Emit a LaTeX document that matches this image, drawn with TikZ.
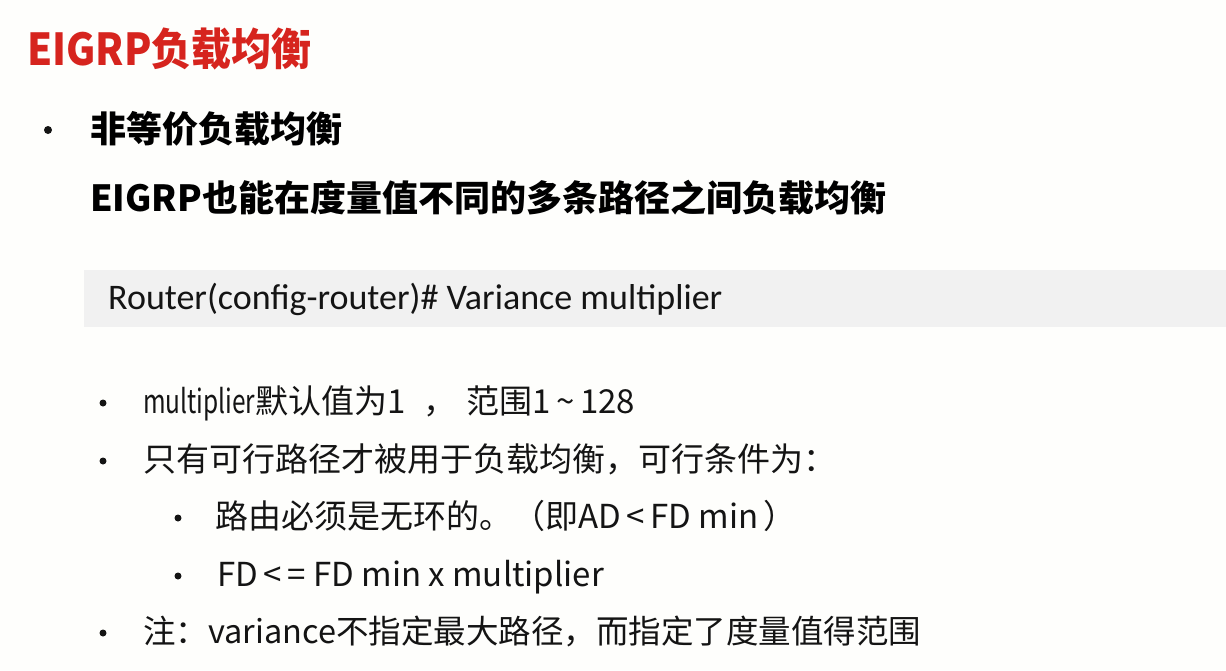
\documentclass[tikz,border=0pt]{standalone}
\usepackage{graphicx}
\usepackage{fontspec}
\setmainfont{Carlito}
\newfontfamily\cjk{Noto Sans CJK SC}
\newfontfamily\cjknarrow{Noto Sans CJK SC}[FakeStretch=0.74]
\definecolor{titlered}{RGB}{214,36,30}
\definecolor{boxgray}{RGB}{241,241,241}
\definecolor{bgwhite}{RGB}{254,254,252}
\definecolor{txt}{RGB}{20,20,20}
\tikzset{
  title/.style={anchor=base west, inner sep=0pt, text=titlered, font=\fontsize{40}{44}\selectfont\cjk\bfseries},
  head/.style={anchor=base west, inner sep=0pt, text=black, font=\fontsize{36}{40}\selectfont\cjk\bfseries},
  code/.style={anchor=base west, inner sep=0pt, text=txt, font=\fontsize{36}{40}\selectfont},
  body/.style={anchor=base west, inner sep=0pt, text=txt, font=\fontsize{33}{38}\selectfont\cjk},
  dot/.style={circle, fill=txt, inner sep=0pt, minimum size=#1},
}
\begin{document}
\begin{tikzpicture}[x=1pt,y=-1pt]
\fill[bgwhite] (0,0) rectangle (1226,670);
\useasboundingbox (0,0) rectangle (1226,670);
\fill[boxgray] (84,270) rectangle (1226,327);
\node[title] (t) at (27,65) {\scalebox{1}[1.1]{EIGRP负载均衡}};
\node[dot=8pt] (b0) at (48,130) {};
\node[head] (h1) at (90,142) {非等价负载均衡};
\node[head] (h2) at (90,211) {EIGRP也能在度量值不同的多条路径之间负载均衡};
\node[code] (c) at (108,309) {Router(config-router)\# Variance multiplier};
\node[dot=7pt] (b1) at (103,403) {};
\node[body] (l1) at (143,413) {{\cjknarrow multiplier}默认值为1\hspace{18pt}，\hspace{10pt}范围1\,\textasciitilde\,128};
\node[dot=7pt] (b2) at (103,461) {};
\node[body] (l2) at (143,471) {只有可行路径才被用于负载均衡，可行条件为：};
\node[dot=7pt] (b3) at (178,518) {};
\node[body] (l3) at (215,528) {路由必须是无环的。（即AD\,<\,FD min\,）};
\node[dot=7pt] (b4) at (178,576) {};
\node[body] (l4) at (217,586) {FD\,<\,= FD min x multiplier};
\node[dot=7pt] (b5) at (103,633) {};
\node[body, font=\fontsize{32.5}{38}\selectfont\cjk] (l5) at (143,643) {注：variance不指定最大路径，而指定了度量值得范围};
\end{tikzpicture}
\end{document}
